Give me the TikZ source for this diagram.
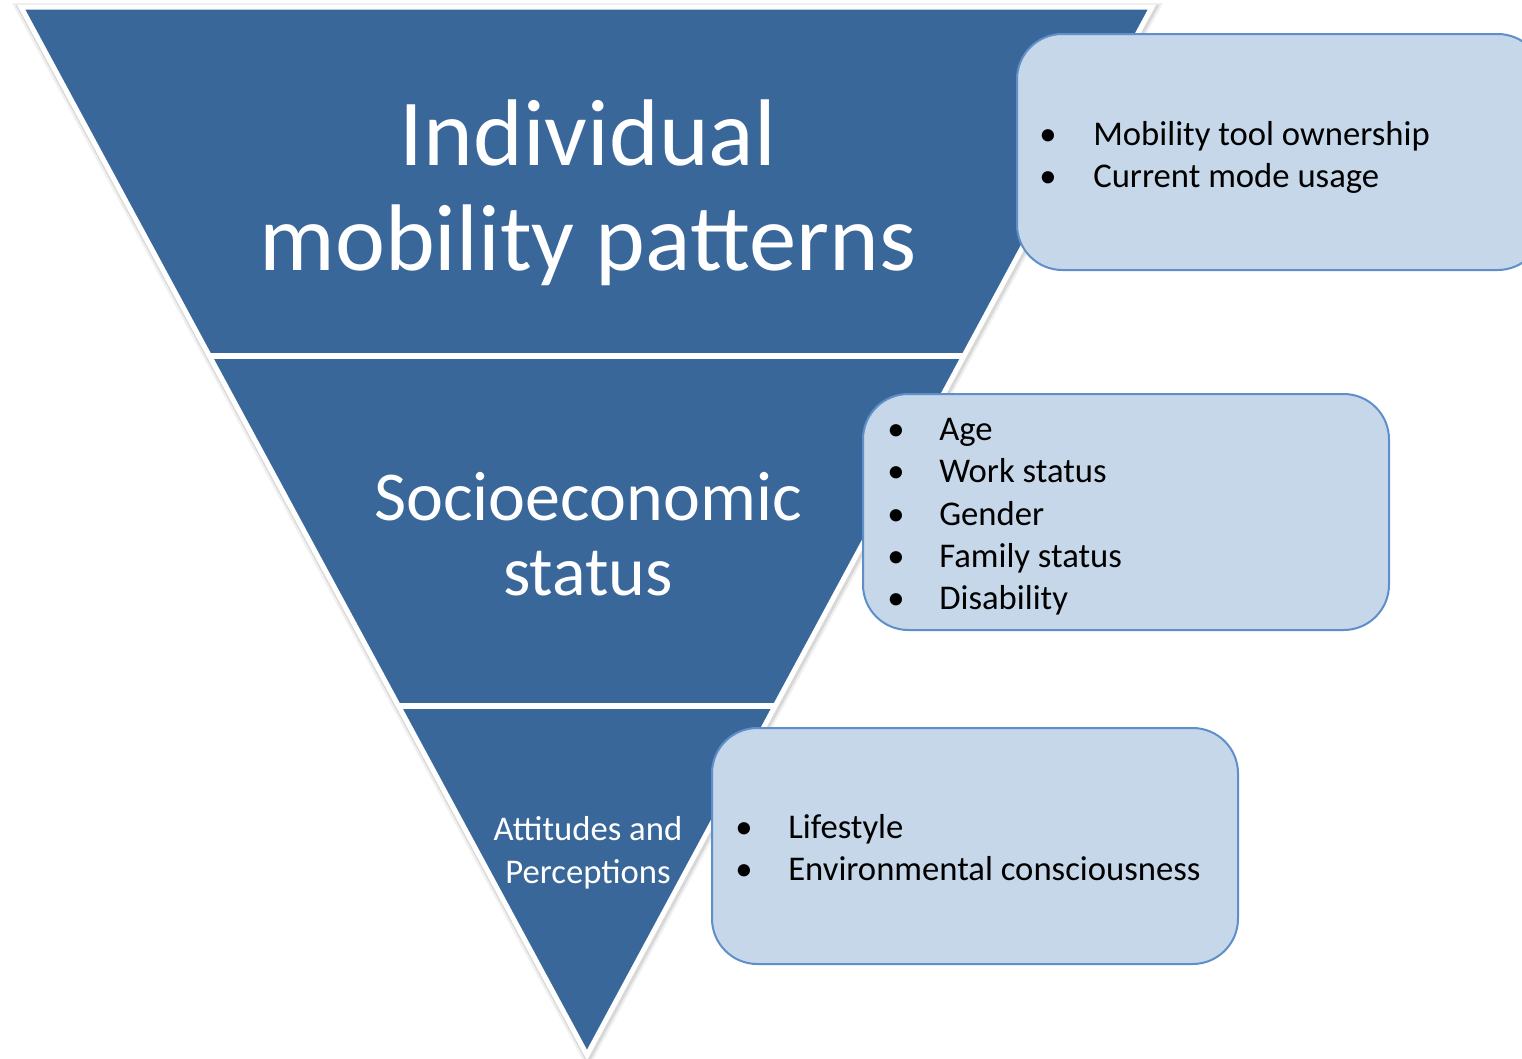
\documentclass[tikz,border=0pt]{standalone}
\usepackage{fontspec}
\setmainfont{Carlito}
\usetikzlibrary{calc}
\definecolor{triblue}{RGB}{58,103,154}
\definecolor{boxfill}{RGB}{197,215,233}
\definecolor{boxline}{RGB}{95,143,201}
\begin{document}
\begin{tikzpicture}[x=0.75pt,y=-0.75pt,
  infobox/.style={draw=boxline, fill=boxfill, line width=1.5pt, rounded corners=34pt,
    anchor=north west, minimum width=394.5pt, minimum height=177pt, inner sep=0pt},
  bigtxt/.style={text=white, anchor=base, inner sep=0pt, font=\fontsize{71}{78}\selectfont},
  midtxt/.style={text=white, anchor=base, inner sep=0pt, font=\fontsize{52.5}{58}\selectfont},
  smalltxt/.style={text=white, anchor=base, inner sep=0pt, font=\fontsize{26}{31}\selectfont},
  bul/.style={text=black, anchor=base, inner sep=0pt, font=\fontsize{26}{31}\selectfont},
  item/.style={text=black, anchor=base west, inner sep=0pt, font=\fontsize{26}{31}\selectfont}]
\clip (0,0) rectangle (1522,1058);
\coordinate (TL) at (21,7);
\coordinate (TR) at (1152,7);
\coordinate (AP) at (587,1055);
\coordinate (L1) at ($(TL)!1/3!(AP)$);
\coordinate (R1) at ($(TR)!1/3!(AP)$);
\coordinate (L2) at ($(TL)!2/3!(AP)$);
\coordinate (R2) at ($(TR)!2/3!(AP)$);
% soft shadow
\draw[black, opacity=0.06, line width=9pt, line join=miter]
  ([shift={(1,2)}]TL) -- ([shift={(1,2)}]TR) -- ([shift={(1,2)}]AP) -- cycle;
\draw[black, opacity=0.10, line width=6pt, line join=miter]
  ([shift={(1,1.5)}]TL) -- ([shift={(1,1.5)}]TR) -- ([shift={(1,1.5)}]AP) -- cycle;
% triangle
\fill[triblue] (TL) -- (TR) -- (AP) -- cycle;
\draw[white, line width=3.75pt, line join=miter] (TL) -- (TR) -- (AP) -- cycle;
\draw[white, line width=4.5pt] (L1) -- (R1);
\draw[white, line width=4.5pt] (L2) -- (R2);
% triangle texts
\node[bigtxt] (t1a) at (588,165) {Individual};
\node[bigtxt] (t1b) at (588,270) {mobility patterns};
\node[midtxt] (t2a) at (588,520) {Socioeconomic};
\node[midtxt] (t2b) at (588,595) {status};
\node[smalltxt] (t3a) at (588,840) {Attitudes and};
\node[smalltxt] (t3b) at (588,883) {Perceptions};
% boxes
\node[infobox] (b1) at (1016,33) {};
\node[infobox] (b2) at (862,393) {};
\node[infobox] (b3) at (711,727) {};
% box 1 items
\node[bul] (b1d1) at (1048,145) {•};
\node[item] (b1i1) at (1093,145) {Mobility tool ownership};
\node[bul] (b1d2) at (1048,187) {•};
\node[item] (b1i2) at (1093,187) {Current mode usage};
% box 2 items
\node[bul] (b2d1) at (896,440) {•};
\node[item] (b2i1) at (939,440) {Age};
\node[bul] (b2d2) at (896,482) {•};
\node[item] (b2i2) at (939,482) {Work status};
\node[bul] (b2d3) at (896,525) {•};
\node[item] (b2i3) at (939,525) {Gender};
\node[bul] (b2d4) at (896,567) {•};
\node[item] (b2i4) at (939,567) {Family status};
\node[bul] (b2d5) at (896,609) {•};
\node[item] (b2i5) at (939,609) {Disability};
% box 3 items
\node[bul] (b3d1) at (744,838) {•};
\node[item] (b3i1) at (788,838) {Lifestyle};
\node[bul] (b3d2) at (744,880) {•};
\node[item] (b3i2) at (788,880) {Environmental consciousness};
\end{tikzpicture}
\end{document}
